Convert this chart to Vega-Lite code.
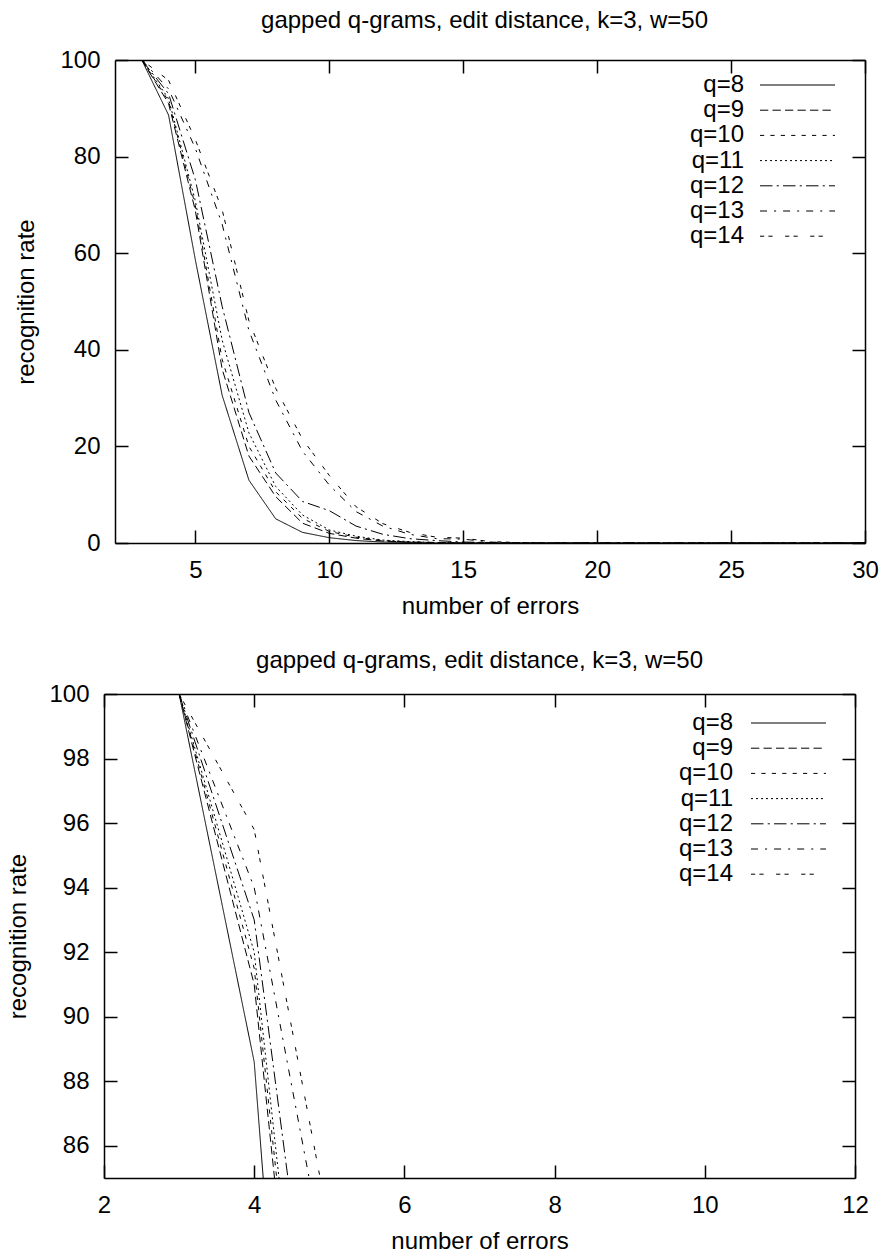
{
  "$schema": "https://vega.github.io/schema/vega-lite/v6.json",
  "padding": {"left": 6, "top": 9, "right": 0, "bottom": 0},
  "background": "white",
  "datasets": {
    "rates": [
      {"q":"q=8","x":3,"y":100},{"q":"q=8","x":4,"y":88.6},{"q":"q=8","x":5,"y":58.6},{"q":"q=8","x":6,"y":30.6},{"q":"q=8","x":7,"y":13.0},{"q":"q=8","x":8,"y":5.0},{"q":"q=8","x":9,"y":2.2},{"q":"q=8","x":10,"y":1.1},{"q":"q=8","x":11,"y":0.5},{"q":"q=8","x":12,"y":0.2},{"q":"q=8","x":13,"y":0.1},{"q":"q=8","x":14,"y":0},{"q":"q=8","x":15,"y":0},{"q":"q=8","x":16,"y":0},{"q":"q=8","x":17,"y":0},{"q":"q=8","x":18,"y":0},{"q":"q=8","x":19,"y":0},{"q":"q=8","x":20,"y":0},{"q":"q=8","x":21,"y":0},{"q":"q=8","x":22,"y":0},{"q":"q=8","x":23,"y":0},{"q":"q=8","x":24,"y":0},{"q":"q=8","x":25,"y":0},{"q":"q=8","x":26,"y":0},{"q":"q=8","x":27,"y":0},{"q":"q=8","x":28,"y":0},{"q":"q=8","x":29,"y":0},{"q":"q=8","x":30,"y":0},
      {"q":"q=9","x":3,"y":100},{"q":"q=9","x":4,"y":91.0},{"q":"q=9","x":5,"y":68.8},{"q":"q=9","x":6,"y":36},{"q":"q=9","x":7,"y":18},{"q":"q=9","x":8,"y":9.6},{"q":"q=9","x":9,"y":4.1},{"q":"q=9","x":10,"y":2.0},{"q":"q=9","x":11,"y":1.0},{"q":"q=9","x":12,"y":0.4},{"q":"q=9","x":13,"y":0.2},{"q":"q=9","x":14,"y":0.1},{"q":"q=9","x":15,"y":0},{"q":"q=9","x":16,"y":0},{"q":"q=9","x":17,"y":0},{"q":"q=9","x":18,"y":0},{"q":"q=9","x":19,"y":0},{"q":"q=9","x":20,"y":0},{"q":"q=9","x":21,"y":0},{"q":"q=9","x":22,"y":0},{"q":"q=9","x":23,"y":0},{"q":"q=9","x":24,"y":0},{"q":"q=9","x":25,"y":0},{"q":"q=9","x":26,"y":0},{"q":"q=9","x":27,"y":0},{"q":"q=9","x":28,"y":0},{"q":"q=9","x":29,"y":0},{"q":"q=9","x":30,"y":0},
      {"q":"q=10","x":3,"y":100},{"q":"q=10","x":4,"y":91.5},{"q":"q=10","x":5,"y":69.8},{"q":"q=10","x":6,"y":38},{"q":"q=10","x":7,"y":20},{"q":"q=10","x":8,"y":10.6},{"q":"q=10","x":9,"y":5.1},{"q":"q=10","x":10,"y":2.4},{"q":"q=10","x":11,"y":1.2},{"q":"q=10","x":12,"y":0.5},{"q":"q=10","x":13,"y":0.2},{"q":"q=10","x":14,"y":0.1},{"q":"q=10","x":15,"y":0},{"q":"q=10","x":16,"y":0},{"q":"q=10","x":17,"y":0},{"q":"q=10","x":18,"y":0},{"q":"q=10","x":19,"y":0},{"q":"q=10","x":20,"y":0},{"q":"q=10","x":21,"y":0},{"q":"q=10","x":22,"y":0},{"q":"q=10","x":23,"y":0},{"q":"q=10","x":24,"y":0},{"q":"q=10","x":25,"y":0},{"q":"q=10","x":26,"y":0},{"q":"q=10","x":27,"y":0},{"q":"q=10","x":28,"y":0},{"q":"q=10","x":29,"y":0},{"q":"q=10","x":30,"y":0},
      {"q":"q=11","x":3,"y":100},{"q":"q=11","x":4,"y":92.0},{"q":"q=11","x":5,"y":70.8},{"q":"q=11","x":6,"y":42},{"q":"q=11","x":7,"y":22.8},{"q":"q=11","x":8,"y":11.7},{"q":"q=11","x":9,"y":5.8},{"q":"q=11","x":10,"y":2.7},{"q":"q=11","x":11,"y":1.4},{"q":"q=11","x":12,"y":0.6},{"q":"q=11","x":13,"y":0.3},{"q":"q=11","x":14,"y":0.1},{"q":"q=11","x":15,"y":0.05},{"q":"q=11","x":16,"y":0},{"q":"q=11","x":17,"y":0},{"q":"q=11","x":18,"y":0},{"q":"q=11","x":19,"y":0},{"q":"q=11","x":20,"y":0},{"q":"q=11","x":21,"y":0},{"q":"q=11","x":22,"y":0},{"q":"q=11","x":23,"y":0},{"q":"q=11","x":24,"y":0},{"q":"q=11","x":25,"y":0},{"q":"q=11","x":26,"y":0},{"q":"q=11","x":27,"y":0},{"q":"q=11","x":28,"y":0},{"q":"q=11","x":29,"y":0},{"q":"q=11","x":30,"y":0},
      {"q":"q=12","x":3,"y":100},{"q":"q=12","x":4,"y":93.0},{"q":"q=12","x":5,"y":75.2},{"q":"q=12","x":6,"y":49},{"q":"q=12","x":7,"y":27},{"q":"q=12","x":8,"y":14.5},{"q":"q=12","x":9,"y":8.6},{"q":"q=12","x":10,"y":6.7},{"q":"q=12","x":11,"y":3.5},{"q":"q=12","x":12,"y":1.8},{"q":"q=12","x":13,"y":0.9},{"q":"q=12","x":14,"y":0.5},{"q":"q=12","x":15,"y":0.2},{"q":"q=12","x":16,"y":0.1},{"q":"q=12","x":17,"y":0},{"q":"q=12","x":18,"y":0},{"q":"q=12","x":19,"y":0},{"q":"q=12","x":20,"y":0},{"q":"q=12","x":21,"y":0},{"q":"q=12","x":22,"y":0},{"q":"q=12","x":23,"y":0},{"q":"q=12","x":24,"y":0},{"q":"q=12","x":25,"y":0},{"q":"q=12","x":26,"y":0},{"q":"q=12","x":27,"y":0},{"q":"q=12","x":28,"y":0},{"q":"q=12","x":29,"y":0},{"q":"q=12","x":30,"y":0},
      {"q":"q=13","x":3,"y":100},{"q":"q=13","x":4,"y":94.0},{"q":"q=13","x":5,"y":81.7},{"q":"q=13","x":6,"y":66},{"q":"q=13","x":7,"y":44},{"q":"q=13","x":8,"y":29.6},{"q":"q=13","x":9,"y":19},{"q":"q=13","x":10,"y":12},{"q":"q=13","x":11,"y":6.5},{"q":"q=13","x":12,"y":3.5},{"q":"q=13","x":13,"y":1.8},{"q":"q=13","x":14,"y":0.9},{"q":"q=13","x":15,"y":0.8},{"q":"q=13","x":16,"y":0.2},{"q":"q=13","x":17,"y":0},{"q":"q=13","x":18,"y":0},{"q":"q=13","x":19,"y":0},{"q":"q=13","x":20,"y":0},{"q":"q=13","x":21,"y":0},{"q":"q=13","x":22,"y":0},{"q":"q=13","x":23,"y":0},{"q":"q=13","x":24,"y":0},{"q":"q=13","x":25,"y":0},{"q":"q=13","x":26,"y":0},{"q":"q=13","x":27,"y":0},{"q":"q=13","x":28,"y":0},{"q":"q=13","x":29,"y":0},{"q":"q=13","x":30,"y":0},
      {"q":"q=14","x":3,"y":100},{"q":"q=14","x":4,"y":95.8},{"q":"q=14","x":5,"y":83.5},{"q":"q=14","x":6,"y":69},{"q":"q=14","x":7,"y":46},{"q":"q=14","x":8,"y":32},{"q":"q=14","x":9,"y":21.5},{"q":"q=14","x":10,"y":14},{"q":"q=14","x":11,"y":7.5},{"q":"q=14","x":12,"y":4.0},{"q":"q=14","x":13,"y":2.2},{"q":"q=14","x":14,"y":1.2},{"q":"q=14","x":15,"y":1.0},{"q":"q=14","x":16,"y":0.3},{"q":"q=14","x":17,"y":0.1},{"q":"q=14","x":18,"y":0},{"q":"q=14","x":19,"y":0},{"q":"q=14","x":20,"y":0},{"q":"q=14","x":21,"y":0},{"q":"q=14","x":22,"y":0},{"q":"q=14","x":23,"y":0},{"q":"q=14","x":24,"y":0},{"q":"q=14","x":25,"y":0},{"q":"q=14","x":26,"y":0},{"q":"q=14","x":27,"y":0},{"q":"q=14","x":28,"y":0},{"q":"q=14","x":29,"y":0},{"q":"q=14","x":30,"y":0}
    ]
  },
  "spacing": 31,
  "resolve": {"scale": {"strokeDash": "independent"}, "legend": {"strokeDash": "independent"}},
  "vconcat": [
    {
      "width": 761,
      "height": 483,
      "data": {"name": "rates"},
      "title": {"text": "gapped q-grams, edit distance, k=3, w=50", "offset": 15},
      "layer": [
        {
          "mark": {"type": "line", "clip": true, "color": "black", "strokeWidth": 1},
          "encoding": {
            "x": {"field": "x", "type": "quantitative", "scale": {"domain": [1.5893, 30], "nice": false, "zero": false},
                  "axis": {"values": [5, 10, 15, 20, 25, 30], "title": "number of errors", "titleX": 386, "domainDash": [0, 11, 750, 100]}},
            "y": {"field": "y", "type": "quantitative", "scale": {"domain": [0, 100], "nice": false},
                  "axis": {"values": [0, 20, 40, 60, 80, 100], "title": "recognition rate", "titlePadding": 21, "offset": -11}},
            "strokeDash": {"field": "q", "type": "nominal",
              "scale": {"domain": ["q=8","q=9","q=10","q=11","q=12","q=13","q=14"],
                        "range": [[1,0],[8.3,4.2],[4.2,6.2],[2,3],[12.5,4.2,2.1,4.2],[7,7,2.1,7],[4.2,4.2,4.2,12.5]]},
              "legend": {"title": null, "orient": "none", "legendX": 586, "legendY": 13}}
          }
        },
        {
          "mark": {"type": "line", "clip": true, "strokeOpacity": 0},
          "encoding": {
            "x": {"field": "x", "type": "quantitative", "axis": {"orient": "top", "labels": false, "title": null, "values": [5, 10, 15, 20, 25, 30], "domainDash": [0, 11, 750, 100]}},
            "y": {"field": "y", "type": "quantitative", "axis": {"orient": "right", "labels": false, "title": null, "values": [0, 20, 40, 60, 80, 100]}},
            "detail": {"field": "q"}
          }
        }
      ],
      "resolve": {"axis": {"x": "independent", "y": "independent"}}
    },
    {
      "width": 751,
      "height": 484,
      "data": {"name": "rates"},
      "title": {"text": "gapped q-grams, edit distance, k=3, w=50", "offset": 9},
      "layer": [
        {
          "mark": {"type": "line", "clip": true, "color": "black", "strokeWidth": 1},
          "encoding": {
            "x": {"field": "x", "type": "quantitative", "scale": {"domain": [2, 12], "nice": false, "zero": false},
                  "axis": {"values": [2, 4, 6, 8, 10, 12], "title": "number of errors"}},
            "y": {"field": "y", "type": "quantitative", "scale": {"domain": [85, 100], "nice": false, "zero": false},
                  "axis": {"values": [86, 88, 90, 92, 94, 96, 98, 100], "title": "recognition rate", "titlePadding": 18}},
            "strokeDash": {"field": "q", "type": "nominal",
              "scale": {"domain": ["q=8","q=9","q=10","q=11","q=12","q=13","q=14"],
                        "range": [[1,0],[8.3,4.2],[4.2,6.2],[2,3],[12.5,4.2,2.1,4.2],[7,7,2.1,7],[4.2,4.2,4.2,12.5]]},
              "legend": {"title": null, "orient": "none", "legendX": 577, "legendY": 17, "labelOffset": -67.5}}
          }
        },
        {
          "mark": {"type": "line", "clip": true, "strokeOpacity": 0},
          "encoding": {
            "x": {"field": "x", "type": "quantitative", "axis": {"orient": "top", "labels": false, "title": null, "values": [2, 4, 6, 8, 10, 12]}},
            "y": {"field": "y", "type": "quantitative", "axis": {"orient": "right", "labels": false, "title": null, "values": [86, 88, 90, 92, 94, 96, 98, 100]}},
            "detail": {"field": "q"}
          }
        }
      ],
      "resolve": {"axis": {"x": "independent", "y": "independent"}}
    }
  ],
  "config": {
    "font": "Liberation Sans",
    "view": {"stroke": null},
    "axis": {
      "labelFont": "Liberation Sans", "labelFontSize": 24, "labelColor": "black",
      "titleFont": "Liberation Sans", "titleFontSize": 24, "titleFontWeight": "normal", "titleColor": "black",
      "grid": false, "domainColor": "black", "domainWidth": 1.5,
      "tickColor": "black", "tickWidth": 1.5, "tickSize": -13,
      "labelFlush": false, "labelOverlap": false, "labelBound": false
    },
    "axisX": {"labelPadding": 28, "titlePadding": 12},
    "axisY": {"labelPadding": 28},
    "legend": {
      "symbolType": "M-4,0L4,0", "symbolSize": 351.5625, "symbolStrokeWidth": 1, "symbolStrokeColor": "black", "symbolFillColor": "transparent",
      "symbolOffset": 95.5, "labelOffset": -65.5, "labelAlign": "right",
      "labelFont": "Liberation Sans", "labelFontSize": 24, "labelColor": "black", "labelLimit": 300,
      "rowPadding": 1.2, "padding": 0
    },
    "title": {"font": "Liberation Sans", "fontSize": 24, "fontWeight": "normal", "color": "black", "frame": "group", "anchor": "middle"}
  }
}
